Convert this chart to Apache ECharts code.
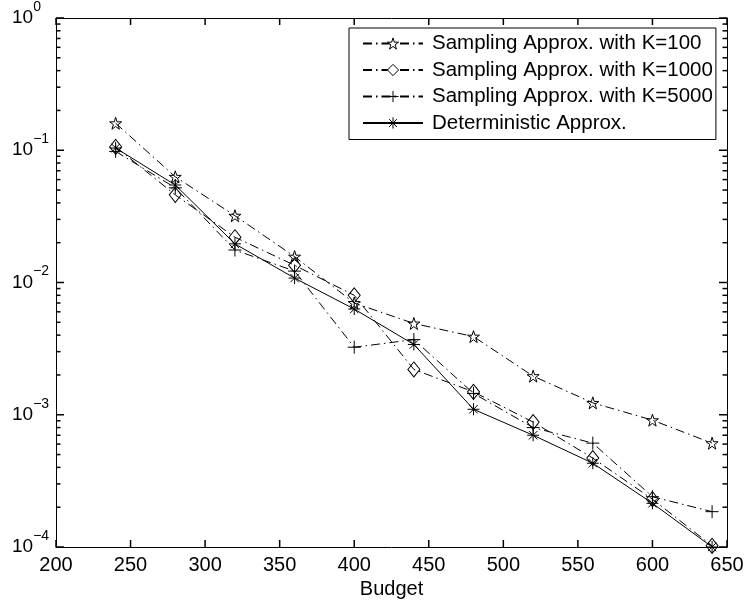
<!DOCTYPE html>
<html>
<head>
<meta charset="utf-8">
<script src="https://cdn.jsdelivr.net/npm/echarts@6/dist/echarts.min.js"></script>
<style>html,body{margin:0;padding:0;background:#fff;}#c{width:747px;height:608px;}</style>
</head>
<body>
<div id="c"></div>
<script>
var budgets = [240, 280, 320, 360, 400, 440, 480, 520, 560, 600, 640];
var k100 = [0.16, 0.063, 0.032, 0.0157, 0.0070, 0.0049, 0.0039, 0.00196, 0.00123, 0.00091, 0.00061];
var k1000 = [0.106, 0.046, 0.022, 0.0135, 0.0080, 0.0022, 0.00149, 0.00088, 0.00047, 0.00023, 0.000102];
var k5000 = [0.098, 0.052, 0.0176, 0.0122, 0.00324, 0.0037, 0.00145, 0.0008, 0.00061, 0.00024, 0.000185];
var det = [0.104, 0.0546, 0.0196, 0.0108, 0.0063, 0.0034, 0.0011, 0.0007, 0.00043, 0.000214, 0.0001];
var seriesNames = ['Sampling Approx. with K=100', 'Sampling Approx. with K=1000', 'Sampling Approx. with K=5000', 'Deterministic Approx.'];
var xTickValues = [200, 250, 300, 350, 400, 450, 500, 550, 600, 650];
var yMajorTickValues = [0.0001, 0.001, 0.01, 0.1, 1];
var yMinorTickValues = [];
[-4, -3, -2, -1].forEach(function (e) {
  for (var m = 2; m <= 9; m++) yMinorTickValues.push(m * Math.pow(10, e));
});

var FONT = 'Liberation Sans, Arial, Helvetica, sans-serif';
var STAR = 'path://M0,-1L0.2245,-0.309L0.951,-0.309L0.363,0.118L0.588,0.809L0,0.382L-0.588,0.809L-0.363,0.118L-0.951,-0.309L-0.2245,-0.309Z';
var DIAMOND = 'path://M0,-1L0.8,0L0,1L-0.8,0Z';
var PLUS = 'path://M0,-1L0,1M-1,0L1,0';
var AST = 'path://M0,-1L0,1M-1,0L1,0M-0.7,-0.7L0.7,0.7M-0.7,0.7L0.7,-0.7';
var DASHDOT = [9, 4, 1.5, 4];

function pairs(vals) { return budgets.map(function (b, i) { return [b, vals[i]]; }); }
function mk(name, vals, symbol, size, dash) {
  return {
    name: name, type: 'line', data: pairs(vals), symbol: symbol, symbolSize: size,
    clip: false, animation: false,
    lineStyle: { color: '#000', width: 1, type: dash },
    itemStyle: { color: 'none', borderColor: '#000', borderWidth: 1 },
    emphasis: { disabled: true }
  };
}

function hline(x1, x2, y) {
  return { type: 'line', shape: { x1: x1, y1: y, x2: x2, y2: y }, style: { stroke: '#000', lineWidth: 1.5 }, z2: 100 };
}
function vline(x, y1, y2) {
  return { type: 'line', shape: { x1: x, y1: y1, x2: x, y2: y2 }, style: { stroke: '#000', lineWidth: 1.5 }, z2: 100 };
}
function yTickSeries(values, len) {
  return {
    type: 'custom', silent: true, animation: false, z: 10,
    xAxisIndex: 0, yAxisIndex: 0,
    data: values.map(function (v) { return [300, v]; }),
    renderItem: function (params, api) {
      var v = api.value(1);
      var l = api.coord([200, v]);
      var r = api.coord([650, v]);
      return { type: 'group', children: [hline(l[0], l[0] + len, l[1]), hline(r[0], r[0] - len, r[1])] };
    }
  };
}
function xTickSeries(values, len) {
  return {
    type: 'custom', silent: true, animation: false, z: 10,
    xAxisIndex: 0, yAxisIndex: 0,
    data: values.map(function (x) { return [x, 0.01]; }),
    renderItem: function (params, api) {
      var x = api.value(0);
      var b = api.coord([x, 0.0001]);
      var t = api.coord([x, 1]);
      return { type: 'group', children: [vline(b[0], b[1], b[1] - len), vline(t[0], t[1], t[1] + len)] };
    }
  };
}

var axLine = { color: '#000', width: 1 };
var chart = echarts.init(document.getElementById('c'), null, { renderer: 'canvas' });
var option = {
  backgroundColor: '#fff',
  animation: false,
  grid: { left: 56, right: 20, top: 18, bottom: 61, containLabel: false },
  legend: {
    data: seriesNames,
    orient: 'vertical',
    left: 349, top: 28,
    backgroundColor: '#fff',
    borderColor: '#000', borderWidth: 1, borderRadius: 0,
    padding: [5, 3, 6, 13],
    itemWidth: 60, itemHeight: 14, itemGap: 5.5,
    itemStyle: { color: '#fff', borderColor: '#000', borderWidth: 1 },
    textStyle: { fontFamily: FONT, fontSize: 20.5, color: '#000', lineHeight: 20, padding: [0, 0, 0, 4] },
    selectedMode: false
  },
  xAxis: [{
    type: 'value', min: 200, max: 650, interval: 50, position: 'bottom',
    name: 'Budget', nameLocation: 'middle', nameGap: 31,
    nameTextStyle: { fontFamily: FONT, fontSize: 20, color: '#000' },
    axisLine: { show: true, onZero: false, lineStyle: axLine },
    axisTick: { show: false },
    axisLabel: { show: true, fontFamily: FONT, fontSize: 20, color: '#000', margin: 8 },
    splitLine: { show: false }
  }, {
    type: 'value', min: 200, max: 650, interval: 50, position: 'top',
    axisLine: { show: true, onZero: false, lineStyle: axLine },
    axisTick: { show: false },
    axisLabel: { show: false }, splitLine: { show: false }
  }],
  yAxis: [{
    type: 'log', logBase: 10, min: 0.0001, max: 1, position: 'left',
    axisLine: { show: true, onZero: false, lineStyle: axLine },
    axisTick: { show: false },
    axisLabel: {
      show: true, align: 'left', margin: 44, color: '#000',
      formatter: function (v) {
        var e = Math.round(Math.log10(v));
        return '{b|10}{s|' + (e === 0 ? '0' : '\u2212' + (-e)) + '}';
      },
      rich: {
        b: { fontFamily: FONT, fontSize: 19, color: '#000', lineHeight: 20 },
        s: { fontFamily: FONT, fontSize: 14, color: '#000', lineHeight: 14, padding: [0, 0, 22, 0] }
      }
    },
    splitLine: { show: false }
  }, {
    type: 'log', logBase: 10, min: 0.0001, max: 1, position: 'right',
    axisLine: { show: true, onZero: false, lineStyle: axLine },
    axisTick: { show: false },
    axisLabel: { show: false }, splitLine: { show: false }
  }],
  series: [
    mk(seriesNames[0], k100, STAR, 12, DASHDOT),
    mk(seriesNames[1], k1000, DIAMOND, [12, 15], DASHDOT),
    mk(seriesNames[2], k5000, PLUS, 13, DASHDOT),
    mk(seriesNames[3], det, AST, 12, 'solid'),
    yTickSeries(yMajorTickValues, 8),
    yTickSeries(yMinorTickValues, 4.5),
    xTickSeries(xTickValues, 7)
  ]
};
chart.setOption(option);
</script>
</body>
</html>
